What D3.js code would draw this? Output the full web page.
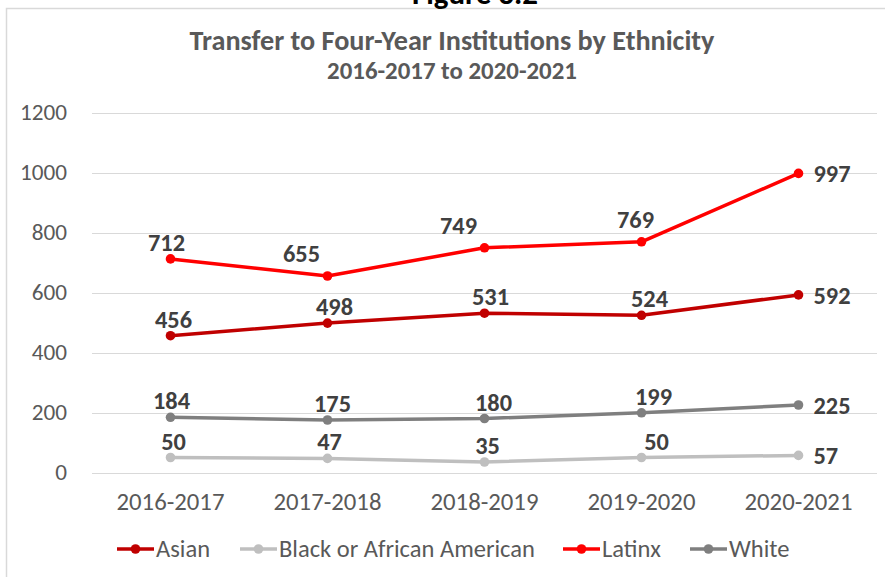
<!DOCTYPE html>
<html>
<head>
<meta charset="utf-8">
<script src="https://cdn.jsdelivr.net/npm/d3@7"></script>
<style>
  html, body { margin: 0; padding: 0; background: #fff; }
  svg { display: block; }
  text { font-family: Carlito, "Liberation Sans Narrow", Lato, "Open Sans", sans-serif; }
</style>
</head>
<body>
<svg id="chart" width="885" height="577"></svg>
<script>
const years = ["2016-2017", "2017-2018", "2018-2019", "2019-2020", "2020-2021"];
const asian = [456, 498, 531, 524, 592];
const black = [50, 47, 35, 50, 57];
const latinx = [712, 655, 749, 769, 997];
const white = [184, 175, 180, 199, 225];
const seriesNames = ["Asian", "Black or African American", "Latinx", "White"];
const yTicks = [0, 200, 400, 600, 800, 1000, 1200];
const titleText = "Transfer to Four-Year Institutions by Ethnicity";
const subtitleText = "2016-2017 to 2020-2021";
const figureText = "Figure 3.2";

const colors = ["#c00000", "#bfbfbf", "#ff0000", "#7f7f7f"];
const seriesValues = [asian, black, latinx, white];
// label horizontal nudges (style only)
const labelDx = [
  [3, 7, 6, 8, 0],
  [3, 2, 3, 15, 0],
  [-4, -26, -26, -6, 0],
  [1, 5, 9, 12, 0]
];

const svg = d3.select("#chart");

function fitSize(str, weight, target) {
  const t = svg.append("text").attr("font-size", 100).attr("font-weight", weight).text(str);
  const w = t.node().getComputedTextLength();
  t.remove();
  return 100 * target / w;
}

const fsTick = fitSize("1200", "normal", 47);
const fsCat = fitSize("2016-2017", "normal", 108);
const fsTitle = fitSize(titleText, "bold", 525);
const fsSub = fitSize(subtitleText, "bold", 250);
const fsLegend = fitSize("Black or African American", "normal", 256);
const fsLabel = fitSize("997", "bold", 37);
const fsFig = fitSize(figureText, "bold", 126);

// chart border
svg.append("path")
  .attr("d", "M6.5,600 V8.5 H900")
  .attr("fill", "none")
  .attr("stroke", "#d9d9d9")
  .attr("stroke-width", 1.5);

// figure caption (cut off at top, as in the source)
svg.append("text")
  .attr("x", 475).attr("y", 4)
  .attr("text-anchor", "middle")
  .attr("font-weight", "bold")
  .attr("font-size", fsFig)
  .attr("fill", "#000")
  .text(figureText);

// titles
svg.append("text")
  .attr("x", 452).attr("y", 50)
  .attr("text-anchor", "middle")
  .attr("font-weight", "bold")
  .attr("font-size", fsTitle)
  .attr("fill", "#595959")
  .text(titleText);
svg.append("text")
  .attr("x", 452).attr("y", 79)
  .attr("text-anchor", "middle")
  .attr("font-weight", "bold")
  .attr("font-size", fsSub)
  .attr("fill", "#595959")
  .text(subtitleText);

const x = d3.scaleBand().domain(years).range([92, 877]).padding(0);
const y = d3.scaleLinear().domain([0, 1200]).range([472.5, 112.5]);
const cx = d => x(d) + x.bandwidth() / 2;

// gridlines
svg.append("g").selectAll("line").data(yTicks).join("line")
  .attr("x1", 92).attr("x2", 877)
  .attr("y1", d => Math.round(y(d)) + 0.5).attr("y2", d => Math.round(y(d)) + 0.5)
  .attr("stroke", "#d9d9d9").attr("stroke-width", 1);

// y axis labels
const yAxis = d3.axisLeft(y).tickValues(yTicks).tickFormat(d3.format("d")).tickSize(0).tickPadding(0);
const gy = svg.append("g").attr("transform", "translate(67,0)").call(yAxis);
gy.select(".domain").remove();
gy.selectAll("text")
  .attr("font-size", fsTick)
  .attr("fill", "#595959")
  .attr("font-family", null);

// x axis labels
const xAxis = d3.axisBottom(x).tickSize(0).tickPadding(0);
const gx = svg.append("g").attr("transform", "translate(0,492)").call(xAxis);
gx.select(".domain").remove();
gx.selectAll("text")
  .attr("font-size", fsCat)
  .attr("fill", "#595959")
  .attr("font-family", null);

// lines
const line = d3.line().x((d, i) => cx(years[i])).y(d => y(d));
seriesValues.forEach((vals, s) => {
  const g = svg.append("g");
  g.append("path").datum(vals)
    .attr("d", line)
    .attr("fill", "none")
    .attr("stroke", colors[s])
    .attr("stroke-width", 3.5)
    .attr("stroke-linejoin", "round")
    .attr("stroke-linecap", "round");
  g.selectAll("circle").data(vals).join("circle")
    .attr("cx", (d, i) => cx(years[i]))
    .attr("cy", d => y(d))
    .attr("r", 4.8)
    .attr("fill", colors[s]);
});

// data labels
seriesValues.forEach((vals, s) => {
  svg.append("g").selectAll("text").data(vals).join("text")
    .attr("x", (d, i) => i === vals.length - 1 ? cx(years[i]) + 15 : cx(years[i]) + labelDx[s][i])
    .attr("y", (d, i) => {
      if (i === vals.length - 1) return y(d) + 1;
      const extra = (s === 2 && (i === 1 || i === 2 || i === 3)) ? 6 : 0;
      return y(d) - 16 - extra;
    })
    .attr("text-anchor", (d, i) => i === vals.length - 1 ? "start" : "middle")
    .attr("dominant-baseline", "central")
    .attr("font-weight", "bold")
    .attr("font-size", fsLabel)
    .attr("fill", "#404040")
    .text(d => d);
});

// legend
const legendItems = [
  { name: seriesNames[0], color: colors[0], x0: 117 },
  { name: seriesNames[1], color: colors[1], x0: 240 },
  { name: seriesNames[2], color: colors[2], x0: 563 },
  { name: seriesNames[3], color: colors[3], x0: 690 }
];
const ly = 549;
const lg = svg.append("g");
legendItems.forEach(it => {
  lg.append("line")
    .attr("x1", it.x0).attr("x2", it.x0 + 37)
    .attr("y1", ly).attr("y2", ly)
    .attr("stroke", it.color).attr("stroke-width", 3.5);
  lg.append("circle")
    .attr("cx", it.x0 + 18.5).attr("cy", ly).attr("r", 4.8)
    .attr("fill", it.color);
  lg.append("text")
    .attr("x", it.x0 + 39).attr("y", ly)
    .attr("dominant-baseline", "central")
    .attr("font-size", fsLegend)
    .attr("fill", "#595959")
    .text(it.name);
});
</script>
</body>
</html>
